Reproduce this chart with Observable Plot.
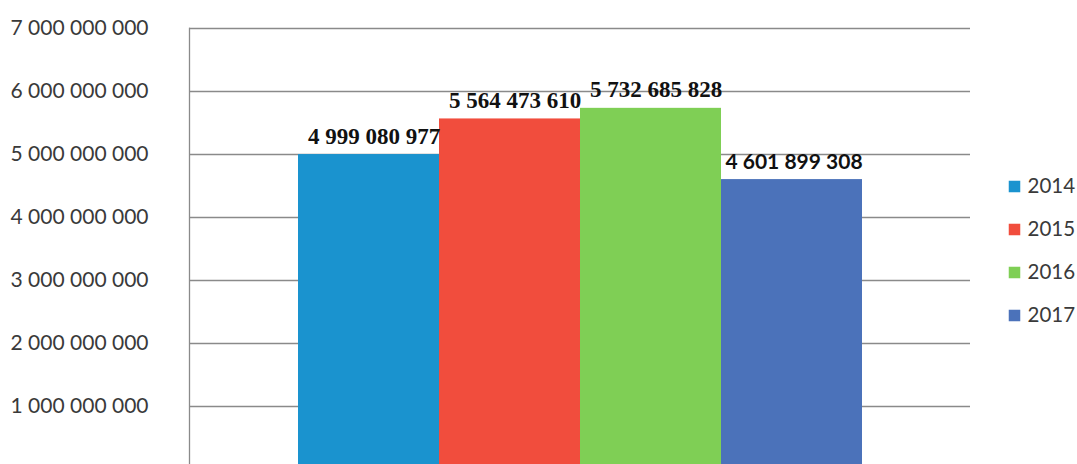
<!DOCTYPE html>
<html>
<head>
<meta charset="utf-8">
<script src="https://cdn.jsdelivr.net/npm/d3@7"></script>
<script src="https://cdn.jsdelivr.net/npm/@observablehq/plot@0.6"></script>
<style>
  html, body { margin: 0; padding: 0; background: #fff; }
  #wrap { position: relative; width: 1077px; height: 464px; overflow: hidden; }
  #legend { position: absolute; left: 1006px; top: 163px; }
</style>
</head>
<body>
<div id="wrap"><div id="chart"></div><div id="legend"></div></div>
<script>
const years = ["2014", "2015", "2016", "2017"];
const values = [4999080977, 5564473610, 5732685828, 4601899308];
const labels = ["4 999 080 977", "5 564 473 610", "5 732 685 828", "4 601 899 308"];
const colors = ["#1a93cf", "#f14d3d", "#7fcf55", "#4b72ba"];
const yTicks = [1e9, 2e9, 3e9, 4e9, 5e9, 6e9, 7e9];

const data = years.map((y, i) => ({year: y, value: values[i], label: labels[i]}));
const fmt = d => d3.format(",")(d).replace(/,/g, " ");
const serif = data.slice(0, 3);
const sans = data.slice(3);

const chart = Plot.plot({
  width: 1077,
  height: 464,
  marginLeft: 189,
  marginRight: 107,
  marginTop: 28,
  marginBottom: -5,
  style: {background: "#fff", overflow: "hidden"},
  x: {domain: years, paddingInner: 0, paddingOuter: 0.76, axis: null},
  y: {domain: [0, 7e9], ticks: yTicks, label: null},
  color: {domain: years, range: colors},
  marks: [
    Plot.gridY(yTicks, {stroke: "#8a8a8a", strokeOpacity: 1, strokeWidth: 1.3}),
    Plot.frame({anchor: "left", stroke: "#8a8a8a", strokeWidth: 1.3}),
    Plot.axisY(yTicks, {tickSize: 0, tickPadding: 41, tickFormat: fmt, fontSize: 21, fontFamily: "Lato", fill: "#3a3a3a", label: null}),
    Plot.barY(data, {x: "year", y: "value", fill: "year"}),
    Plot.text(serif, {x: "year", y: "value", text: "label", dy: -11, dx: 5, lineAnchor: "bottom",
      fontFamily: "Liberation Serif", fontWeight: "bold", fontSize: 23, fill: "#111"}),
    Plot.text(sans, {x: "year", y: "value", text: "label", dy: -11, dx: 2, lineAnchor: "bottom",
      fontFamily: "Lato", fontWeight: "bold", fontSize: 21, fill: "#111"})
  ]
});
document.getElementById("chart").append(chart);

const legend = Plot.plot({
  width: 71,
  height: 175,
  margin: 0,
  marginLeft: 8,
  x: {domain: [0, 1], axis: null},
  y: {type: "point", domain: years, axis: null, padding: 0.5},
  color: {domain: years, range: colors},
  marks: [
    Plot.dot(years, {x: 0, y: d => d, fill: d => d, symbol: "square", r: 6.5}),
    Plot.text(years, {x: 0, y: d => d, text: d => d, dx: 13, textAnchor: "start",
      fontFamily: "Lato", fontSize: 20.5, fill: "#3a3a3a"})
  ]
});
document.getElementById("legend").append(legend);
</script>
</body>
</html>
